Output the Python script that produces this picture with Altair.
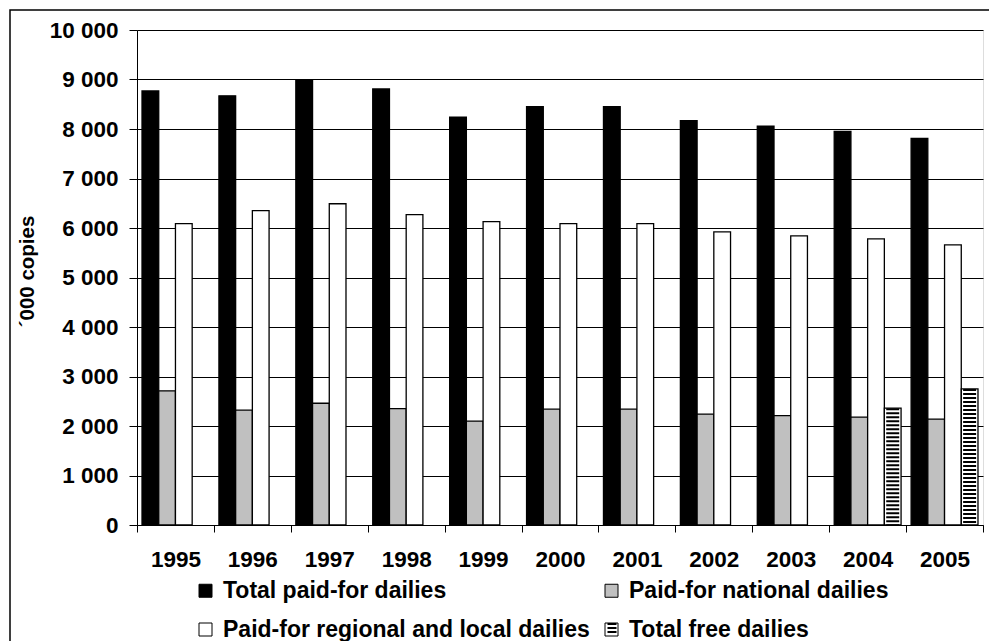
import altair as alt
import pandas as pd

years = ["1995", "1996", "1997", "1998", "1999", "2000", "2001", "2002", "2003", "2004", "2005"]
total_paid = [8770, 8670, 8990, 8810, 8240, 8450, 8450, 8170, 8060, 7950, 7810]
national = [2710, 2320, 2460, 2350, 2100, 2340, 2340, 2240, 2210, 2180, 2140]
regional = [6090, 6350, 6490, 6270, 6130, 6090, 6090, 5920, 5840, 5780, 5660]
free_years = ["2004", "2005"]
free = [2360, 2750]

series = ["Total paid-for dailies", "Paid-for national dailies",
          "Paid-for regional and local dailies", "Total free dailies"]
fills = ["#000000", "#c0c0c0", "#ffffff", "transparent"]
y_ticks = [0, 1000, 2000, 3000, 4000, 5000, 6000, 7000, 8000, 9000, 10000]

rows = []
for i, yr in enumerate(years):
    rows.append({"year": yr, "series": series[0], "value": total_paid[i]})
    rows.append({"year": yr, "series": series[1], "value": national[i]})
    rows.append({"year": yr, "series": series[2], "value": regional[i]})
for yr, v in zip(free_years, free):
    rows.append({"year": yr, "series": series[3], "value": v})
df = pd.DataFrame(rows)

W, H = 846, 495
FONT = "Liberation Sans"

x_enc = alt.X("year:N", sort=years,
              scale=alt.Scale(paddingInner=0, paddingOuter=0),
              axis=alt.Axis(title=None, tickBand="extent", tickSize=7, labelAngle=0,
                            labelFontSize=22.5, labelFont=FONT, labelFontWeight="bold",
                            labelColor="black", labelPadding=16, domainColor="black",
                            tickColor="black", domainWidth=1, tickWidth=1))
xo_enc = alt.XOffset("series:N", sort=series,
                     scale=alt.Scale(domain=series, paddingInner=0, paddingOuter=0.3))
y_enc = alt.Y("value:Q", scale=alt.Scale(domain=[0, 10000], nice=False),
              axis=alt.Axis(values=y_ticks, title="´000 copies",
                            labelExpr="replace(format(datum.value, ','), ',', ' ')",
                            labelFontSize=22.5, labelFont=FONT, labelFontWeight="bold",
                            labelColor="black", labelPadding=11, tickSize=8,
                            tickColor="black", domainColor="black",
                            gridColor="black", gridWidth=1,
                            titleFont=FONT, titleFontSize=20.5, titleFontWeight="bold",
                            titleColor="black", titleX=-100, titleY=241,
                            titleAngle=270, titleAlign="center", titleBaseline="bottom"))

color_enc = alt.Color("series:N", sort=series,
                      scale=alt.Scale(domain=series, range=fills),
                      legend=alt.Legend(title=None, orient="none", legendX=57, legendY=549,
                                        columns=2, direction="horizontal",
                                        symbolType="square", symbolSize=169,
                                        symbolStrokeColor="black", symbolStrokeWidth=1,
                                        symbolOpacity=1,
                                        labelFontSize=23, labelFont=FONT, labelFontWeight="bold",
                                        labelColor="black", rowPadding=15, columnPadding=10,
                                        labelOffset=6, padding=0, labelLimit=600))

free_df = df[df["series"] == series[3]]

# white background under the hatched free-dailies bars
free_base = alt.Chart(free_df).mark_bar(color="white").encode(
    x=x_enc, xOffset=xo_enc, y=y_enc)

bars = alt.Chart(df).mark_bar(stroke="black", strokeWidth=1.3, opacity=1).encode(
    x=x_enc, xOffset=xo_enc, y=y_enc, color=color_enc)

stripes = alt.Chart(free_df).mark_rule(color="black", strokeWidth=13, strokeDash=[2, 2],
                                       strokeCap="butt").encode(
    x=x_enc, xOffset=xo_enc, y=y_enc, y2=alt.datum(0))

frame_df = pd.DataFrame({"k": [0]})
frame = alt.Chart(frame_df).mark_rect(filled=False, stroke="black", strokeWidth=1.5).encode(
    x=alt.value(-127), x2=alt.value(W + 60), y=alt.value(-20), y2=alt.value(H + 200))

legend_hatch = alt.Chart(frame_df).mark_rule(color="black", strokeWidth=9, strokeDash=[2, 2],
                                             strokeCap="butt").encode(
    x=alt.value(475), y=alt.value(593), y2=alt.value(603))

chart = alt.layer(free_base, bars, stripes, legend_hatch, frame).properties(
    width=W, height=H, autosize="none",
    padding={"left": 129, "top": 22, "right": 6, "bottom": 116}
).configure_view(stroke="black", strokeWidth=1).configure(background="white")

chart.save("out.html", embed_options={"renderer": "svg", "actions": False})
